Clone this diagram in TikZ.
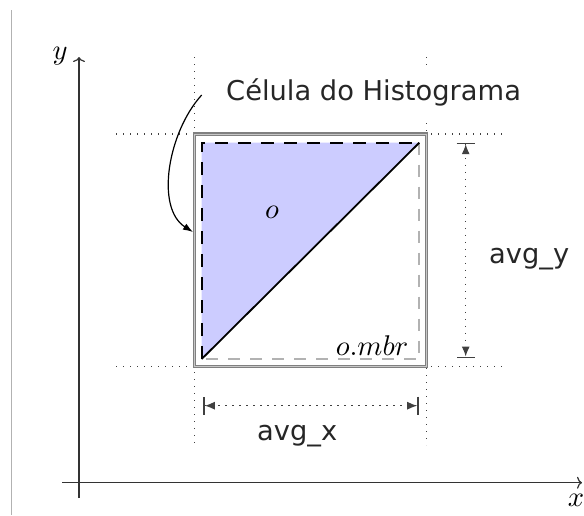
\documentclass[tikz,border=0pt]{standalone}
\usepackage{fontspec}
\newfontfamily\dvs{DejaVu Sans}
\usetikzlibrary{arrows.meta}
\definecolor{trifill}{RGB}{204,204,255}
\begin{document}
\begin{tikzpicture}[x=1pt,y=-1pt,
  guide/.style={draw=black!75, line width=1.1pt, dash pattern=on 1.1pt off 5.9pt},
  dimtip/.style={{Bar[width=18pt,line width=1.5pt]Latex[length=10pt,width=8pt]}-{Latex[length=10pt,width=8pt]Bar[width=18pt,line width=1.5pt]}},
  axis/.style={draw=black!80, line width=1.4pt, -{To[length=5pt,width=12pt,line width=1.2pt]}},
  sanslbl/.style={font=\dvs\fontsize{27.3}{31}\selectfont, inner sep=0pt, text=black!85},
  mathlbl/.style={scale=2.85, inner sep=0pt},
  cellbox/.style={draw=black!50, double=black!22, double distance=0.9pt, line width=1.3pt},
  mbrbox/.style={draw=black!30, line width=1.8pt, dash pattern=on 12pt off 10pt},
  objedge/.style={draw=black, line width=1.8pt, dash pattern=on 13pt off 10pt},
]
\useasboundingbox (0,0) rectangle (584,515);
% frame line at left
\draw[black!30, line width=1pt] (11.5,10) -- (11.5,515);
% coordinates
\coordinate (cellNW) at (194.3,134);
\coordinate (cellSE) at (426.7,366.7);
\coordinate (mbrNW) at (201.7,142.7);
\coordinate (mbrNE) at (419.3,142.7);
\coordinate (mbrSW) at (201.7,359);
\coordinate (mbrSE) at (419.3,359);
% axes
\coordinate (ybot) at (79,498);
\coordinate (ytop) at (79,57);
\coordinate (xleft) at (62,482.7);
\coordinate (xright) at (582,482.7);
\draw[axis] (ybot) -- (ytop);
\draw[axis] (xleft) -- (xright);
\node[mathlbl] (ylab) at (60,56) {$y$};
\node[mathlbl] (xlab) at (576,500) {$x$};
% guide lines
\coordinate (gL1) at (194.3,57);  \coordinate (gL2) at (194.3,445);
\coordinate (gR1) at (426.7,57);  \coordinate (gR2) at (426.7,67);
\coordinate (gR3) at (426.7,123); \coordinate (gR4) at (426.7,445);
\coordinate (gT1) at (116,134);   \coordinate (gT2) at (503,134);
\coordinate (gB1) at (116,366.7); \coordinate (gB2) at (503,366.7);
\draw[guide] (gL1) -- (gL2);
\draw[guide] (gR1) -- (gR2);
\draw[guide] (gR3) -- (gR4);
\draw[guide] (gT1) -- (gT2);
\draw[guide] (gB1) -- (gB2);
% cell
\draw[cellbox] (cellNW) rectangle (cellSE);
% object triangle
\fill[trifill] (mbrNW) -- (mbrNE) -- (mbrSW) -- cycle;
\draw[mbrbox] (mbrNE) -- (mbrSE) -- (mbrSW);
\draw[objedge] (mbrSW) -- (mbrNW) -- (mbrNE);
\draw[black, line width=1.8pt] (mbrSW) -- (mbrNE);
\node[mathlbl, anchor=base] (olab) at (272,218) {$o$};
\node[mathlbl, anchor=base east] (mbrlab) at (409,355) {$o.mbr$};
% title and curved arrow
\node[sanslbl, anchor=base west] (title) at (226,100) {Célula do Histograma};
\coordinate (cstart) at (201.7,95);
\coordinate (cend) at (193,232);
\draw[black, line width=1.2pt, -{Latex[length=10pt,width=7pt]}] (cstart) .. controls (168,132) and (155,208) .. (cend);
% dimensions
\coordinate (dxa) at (203.3,405.7);
\coordinate (dxb) at (418.7,405.7);
\coordinate (dya) at (465.7,142.7);
\coordinate (dyb) at (465.7,358);
\draw[guide, dimtip] (dxa) -- (dxb);
\draw[guide, dimtip] (dya) -- (dyb);
\node[sanslbl, anchor=base west] (avgx) at (257,440) {avg\_x};
\node[sanslbl, anchor=base west] (avgy) at (489,263) {avg\_y};
\end{tikzpicture}
\end{document}
